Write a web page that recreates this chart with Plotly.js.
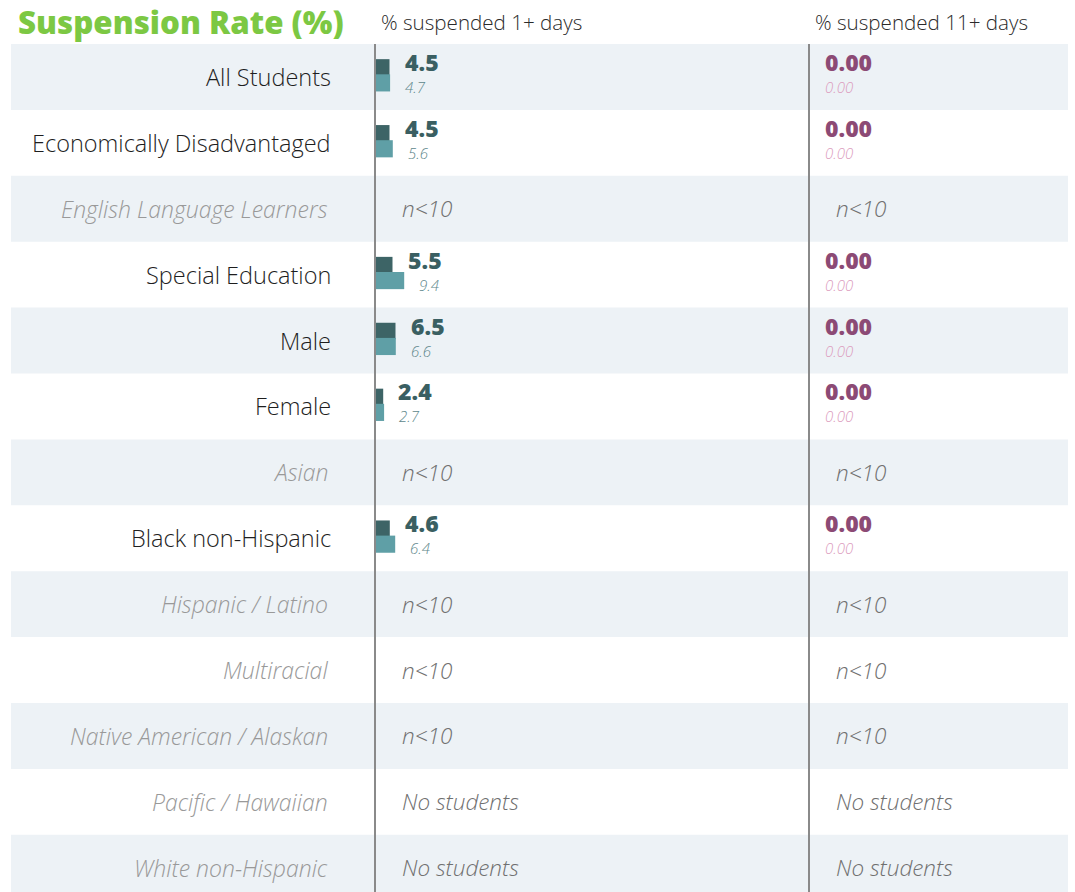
<!DOCTYPE html>
<html>
<head>
<meta charset="utf-8">
<script src="https://cdn.plot.ly/plotly-3.0.1.min.js"></script>
<style>
html,body{margin:0;padding:0;background:#fff;}
#chart{width:1075px;height:892px;}
</style>
</head>
<body>
<div id="chart"></div>
<script>
const categories = ["All Students","Economically Disadvantaged","English Language Learners","Special Education","Male","Female","Asian","Black non-Hispanic","Hispanic / Latino","Multiracial","Native American / Alaskan","Pacific / Hawaiian","White non-Hispanic"];
const status = ["","","n<10","","","","n<10","","n<10","n<10","n<10","No students","No students"];
const school1 = [4.5,4.5,null,5.5,6.5,2.4,null,4.6,null,null,null,null,null];
const compare1 = [4.7,5.6,null,9.4,6.6,2.7,null,6.4,null,null,null,null,null];
const school11 = [0,0,null,0,0,0,null,0,null,null,null,null,null];
const compare11 = [0,0,null,0,0,0,null,0,null,null,null,null,null];
const headers = ["% suspended 1+ days","% suspended 11+ days"];
const chartTitle = "Suspension Rate (%)";

const W = 1075, H = 892, headerH = 44;
const rowH = 65.9;
const pxPerUnit = 3;
const zero1 = 376, zero2 = 810;
const idx = categories.map((c,i)=>i);
const F = "'Open Sans', sans-serif";
const yTop = -0.5 - headerH/rowH;
const yBottom = yTop + H/rowH;

const traces = [
  {type:'bar', orientation:'h', x:school1, y:idx, xaxis:'x', yaxis:'y', width:0.25, offset:-0.27, marker:{color:'#3D6466'}, hoverinfo:'skip'},
  {type:'bar', orientation:'h', x:compare1, y:idx, xaxis:'x', yaxis:'y', width:0.26, offset:-0.04, marker:{color:'#5F9FA6'}, hoverinfo:'skip'},
  {type:'bar', orientation:'h', x:school11, y:idx, xaxis:'x2', yaxis:'y', width:0.25, offset:-0.27, marker:{color:'#8C4A75'}, hoverinfo:'skip'},
  {type:'bar', orientation:'h', x:compare11, y:idx, xaxis:'x2', yaxis:'y', width:0.26, offset:-0.04, marker:{color:'#E3A9C6'}, hoverinfo:'skip'}
];

const shapes = [];
const annotations = [];
idx.forEach(i=>{
  if (i % 2 === 0) {
    shapes.push({type:'rect', xref:'paper', yref:'y', x0:11/W, x1:1068/W, y0:i-0.5, y1:i+0.5, fillcolor:'#EDF2F6', line:{width:0}, layer:'below'});
  }
  const valid = status[i] === "";
  annotations.push({xref:'paper', yref:'y', x:(valid ? 333 : 330)/W, y:i, xanchor:'right', yanchor:'middle', showarrow:false, yshift:0,
    text: valid ? categories[i] : '<i>'+categories[i]+'</i>',
    font:{family:F, size: valid ? 23.5 : 23, weight:300, color: valid ? '#1E1E1E' : '#999999'}});
  if (valid) {
    annotations.push({xref:'x', yref:'y', x:school1[i], y:i, xanchor:'left', yanchor:'middle', xshift:13, yshift:15, showarrow:false,
      text:school1[i].toFixed(1), font:{family:F, size:23, weight:800, color:'#3A5F62'}});
    annotations.push({xref:'x', yref:'y', x:compare1[i], y:i, xanchor:'left', yanchor:'middle', xshift:13, yshift:-10, showarrow:false,
      text:'<i>'+compare1[i].toFixed(1)+'</i>', font:{family:F, size:15, weight:300, color:'#5E878B'}});
    annotations.push({xref:'x2', yref:'y', x:school11[i], y:i, xanchor:'left', yanchor:'middle', xshift:13, yshift:15, showarrow:false,
      text:school11[i].toFixed(2), font:{family:F, size:23, weight:800, color:'#8C4A75'}});
    annotations.push({xref:'x2', yref:'y', x:compare11[i], y:i, xanchor:'left', yanchor:'middle', xshift:13, yshift:-10, showarrow:false,
      text:'<i>'+compare11[i].toFixed(2)+'</i>', font:{family:F, size:15, weight:300, color:'#DC9DBE'}});
  } else {
    [['x',0],['x2',0]].forEach(([ax,v])=>{
      annotations.push({xref:ax, yref:'y', x:v, y:i, xanchor:'left', yanchor:'middle', xshift:24, showarrow:false,
        text:'<i>'+status[i]+'</i>', font:{family:F, size:22.5, weight:300, color:'#707070'}});
    });
  }
});

// vertical column lines
[375, 809].forEach(px=>{
  shapes.push({type:'line', xref:'paper', yref:'paper', x0:px/W, x1:px/W, y0:0, y1:1-headerH/H, line:{color:'#8A8A8A', width:2}, layer:'above'});
});

annotations.push({xref:'paper', yref:'paper', x:16/W, y:1-22/H, xanchor:'left', yanchor:'middle', showarrow:false,
  text:chartTitle, font:{family:F, size:31.3, weight:800, color:'#7CC843'}});
annotations.push({xref:'paper', yref:'paper', x:379/W, y:1-22/H, xanchor:'left', yanchor:'middle', showarrow:false,
  text:headers[0], font:{family:F, size:20.6, weight:300, color:'#2A2A2A'}});
annotations.push({xref:'paper', yref:'paper', x:813/W, y:1-22/H, xanchor:'left', yanchor:'middle', showarrow:false,
  text:headers[1], font:{family:F, size:20.6, weight:300, color:'#2A2A2A'}});

const layout = {
  width:W, height:H,
  margin:{l:0,r:0,t:0,b:0},
  paper_bgcolor:'#ffffff', plot_bgcolor:'rgba(0,0,0,0)',
  showlegend:false,
  barmode:'overlay',
  xaxis:{domain:[0,1], range:[-zero1/pxPerUnit, (W-zero1)/pxPerUnit], visible:false, fixedrange:true},
  xaxis2:{domain:[0,1], overlaying:'x', range:[-zero2/pxPerUnit, (W-zero2)/pxPerUnit], visible:false, fixedrange:true},
  yaxis:{range:[yBottom, yTop], visible:false, fixedrange:true},
  shapes:shapes,
  annotations:annotations
};

Plotly.newPlot('chart', traces, layout, {displayModeBar:false, staticPlot:true});
</script>
</body>
</html>
